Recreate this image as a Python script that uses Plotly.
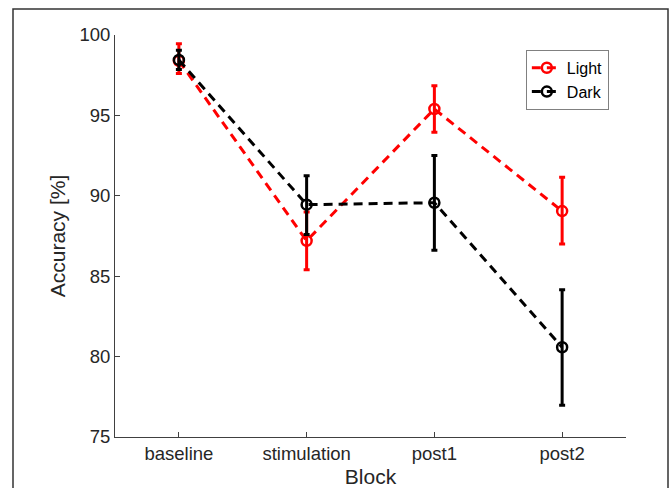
import plotly.graph_objects as go

blocks = ["baseline", "stimulation", "post1", "post2"]
x_pos = [1, 2, 3, 4]

light_mean = [98.4, 87.2, 95.4, 89.05]
light_err_plus = [1.05, 1.8, 1.45, 2.1]
light_err_minus = [0.8, 1.8, 1.45, 2.05]

dark_mean = [98.45, 89.45, 89.57, 80.58]
dark_err_plus = [0.6, 1.8, 2.93, 3.58]
dark_err_minus = [0.6, 1.85, 2.95, 3.6]

yticks = [75, 80, 85, 90, 95, 100]

FONT = "Liberation Sans, Arial, Helvetica, sans-serif"
AX = "#404040"

fig = go.Figure()

def add_series(name, y, ep, em, color):
    fig.add_trace(go.Scatter(
        x=x_pos, y=y, name=name, mode="lines+markers",
        line=dict(color=color, width=3, dash="9px,6px"),
        marker=dict(symbol="circle-open", size=10, color=color,
                    line=dict(width=2.5, color=color)),
        error_y=dict(type="data", symmetric=False, array=ep, arrayminus=em,
                     color=color, thickness=3, width=3),
    ))

add_series("Light", light_mean, light_err_plus, light_err_minus, "#ff0000")
add_series("Dark", dark_mean, dark_err_plus, dark_err_minus, "#000000")

fig.update_layout(
    width=672, height=488,
    margin=dict(l=115, r=46, t=35, b=51),
    paper_bgcolor="white", plot_bgcolor="white",
    font=dict(family=FONT, size=18, color="#262626"),
    showlegend=True,
    legend=dict(x=0.804, y=0.963, xanchor="left", yanchor="top",
                bordercolor="#808080", borderwidth=1, bgcolor="white",
                font=dict(size=16, color="#000000"),
                itemwidth=30, tracegroupgap=0),
    shapes=[dict(type="rect", xref="paper", yref="paper",
                 x0=(13 - 115) / 511, x1=(668 - 115) / 511,
                 y0=(437 - 500) / 402, y1=(437 - 9) / 402,
                 line=dict(color="#333333", width=1.5), layer="below")],
)

fig.update_xaxes(
    range=[0.5, 4.5], tickmode="array", tickvals=x_pos, ticktext=blocks,
    showline=True, linecolor=AX, linewidth=1, mirror=False, automargin=False,
    ticks="inside", ticklen=5, tickcolor=AX, showgrid=False, zeroline=False,
    tickfont=dict(size=18.5, color="#262626"),
    title=dict(text="Block", font=dict(size=21, color="#262626"), standoff=16),
)
fig.update_yaxes(
    range=[75, 100], tickmode="array", tickvals=yticks,
    showline=True, linecolor=AX, linewidth=1, mirror=False, automargin=False,
    ticks="inside", ticklen=5, tickcolor=AX, showgrid=False, zeroline=False,
    tickfont=dict(size=18.5, color="#262626"),
    title=dict(text="Accuracy [%]", font=dict(size=21, color="#262626"), standoff=8),
)

fig.write_html("out.html")
